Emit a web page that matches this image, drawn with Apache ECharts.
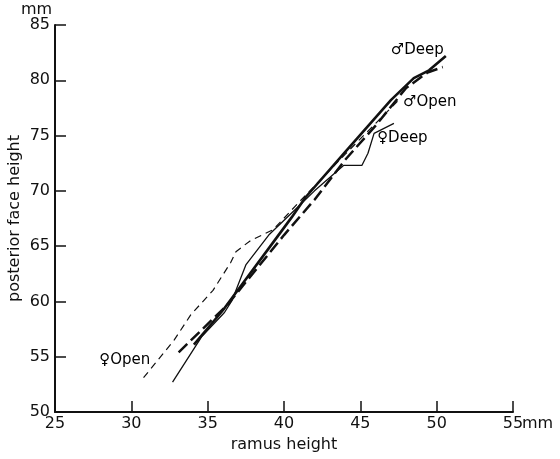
<!DOCTYPE html>
<html>
<head>
<meta charset="utf-8">
<script src="https://cdn.jsdelivr.net/npm/echarts@6/dist/echarts.min.js"></script>
<style>html,body{margin:0;padding:0;background:#fff;}#c{width:560px;height:459px;}</style>
</head>
<body>
<div id="c"></div>
<script>
// Male, deep bite (thick solid)
const maleDeepX = [34.1, 36.0, 37.5, 39.0, 40.5, 41.4, 44.0, 47.0, 48.5, 49.5, 50.6];
const maleDeepY = [56.1, 59.2, 62.0, 64.8, 67.6, 69.4, 73.5, 78.2, 80.2, 80.9, 82.2];
// Male, open bite (thick long dash)
const maleOpenX = [33.1, 36.3, 38.0, 40.0, 42.0, 44.0, 46.0, 48.0, 49.4, 50.4];
const maleOpenY = [55.4, 59.7, 62.6, 66.0, 69.2, 72.8, 75.9, 79.3, 80.7, 81.2];
// Female, deep bite (thin solid)
const femaleDeepX = [32.7, 34.6, 36.1, 36.6, 37.5, 39.0, 40.5, 42.0, 43.9, 45.1, 45.5, 45.9, 47.2];
const femaleDeepY = [52.7, 56.8, 59.0, 60.1, 63.3, 66.0, 68.0, 70.0, 72.3, 72.3, 73.4, 75.2, 76.1];
// Female, open bite (thin short dash)
const femaleOpenX = [30.8, 32.8, 33.9, 35.35, 36.5, 36.85, 37.8, 39.3, 41.0, 44.0, 47.5];
const femaleOpenY = [53.1, 56.5, 58.8, 61.0, 63.5, 64.5, 65.5, 66.5, 69.0, 73.3, 78.2];

const xTicks = [25, 30, 35, 40, 45, 50, 55];
const yTicks = [50, 55, 60, 65, 70, 75, 80, 85];

const labelNames = ['\u2642Deep', '\u2642Open', '\u2640Deep', '\u2640Open'];
const labelX = [47.0, 47.8, 46.1, 27.9];
const labelY = [82.7, 78.0, 74.8, 54.7];

const FONT = 'DejaVu Sans';
const pairs = (xs, ys) => xs.map((x, i) => [x, ys[i]]);

const chart = echarts.init(document.getElementById('c'), null, {renderer: 'canvas'});
const lineSeries = (data, width, type) => ({
  type: 'line', data, symbol: 'none', smooth: false, silent: true,
  lineStyle: {color: '#111', width, type, cap: 'butt'}
});
chart.setOption({
  animation: false,
  backgroundColor: '#fff',
  grid: {left: 55, right: 47, top: 25, bottom: 47, containLabel: false, outerBoundsMode: 'none'},
  xAxis: {
    type: 'value', min: 25, max: 55, interval: 5,
    axisLine: {lineStyle: {color: '#111', width: 2}},
    axisTick: {inside: true, length: 11, lineStyle: {color: '#111', width: 1.5}},
    axisLabel: {color: '#111', fontFamily: FONT, fontSize: 16, margin: 4,
      formatter: v => xTicks.includes(v) ? String(v) : ''},
    splitLine: {show: false},
    name: 'ramus height', nameLocation: 'middle', nameGap: 25, nameMoveOverlap: false,
    nameTextStyle: {color: '#111', fontFamily: FONT, fontSize: 16}
  },
  yAxis: {
    type: 'value', min: 50, max: 85, interval: 5,
    axisLine: {lineStyle: {color: '#111', width: 2}},
    axisTick: {inside: true, length: 11, lineStyle: {color: '#111', width: 1.5}},
    axisLabel: {color: '#111', fontFamily: FONT, fontSize: 16, margin: 5,
      formatter: v => yTicks.includes(v) ? String(v) : ''},
    splitLine: {show: false},
    name: 'posterior face height', nameLocation: 'middle', nameGap: 32, nameRotate: 90,
    nameMoveOverlap: false,
    nameTextStyle: {color: '#111', fontFamily: FONT, fontSize: 16}
  },
  series: [
    lineSeries(pairs(femaleOpenX, femaleOpenY), 1.2, [7, 5]),
    lineSeries(pairs(femaleDeepX, femaleDeepY), 1.3, 'solid'),
    lineSeries(pairs(maleOpenX, maleOpenY), 2.5, [12, 5]),
    lineSeries(pairs(maleDeepX, maleDeepY), 2.6, 'solid'),
    {
      type: 'scatter', symbol: 'circle', symbolSize: 0, silent: true,
      itemStyle: {color: '#111', opacity: 1},
      data: labelNames.map((n, i) => ({value: [labelX[i], labelY[i]], name: n})),
      label: {show: true, position: 'right', distance: 0, formatter: p => p.name,
        color: '#000', opacity: 1, fontFamily: FONT, fontSize: 15}
    }
  ]
});
const o = chart.convertToPixel({xAxisIndex: 0, yAxisIndex: 0}, [25, 85]);
const e = chart.convertToPixel({xAxisIndex: 0, yAxisIndex: 0}, [55, 50]);
chart.setOption({
  graphic: [
    {type: 'text', left: o[0] - 34, top: o[1] - 23,
      style: {text: 'mm', fill: '#111', font: '16px "DejaVu Sans"'}},
    {type: 'text', left: e[0] + 9, top: e[1] + 4,
      style: {text: 'mm', fill: '#111', font: '16px "DejaVu Sans"'}}
  ]
});
</script>
</body>
</html>
